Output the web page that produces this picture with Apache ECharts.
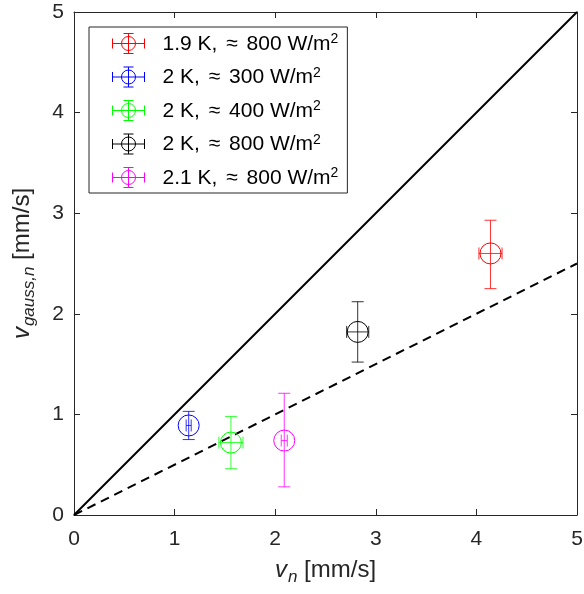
<!DOCTYPE html>
<html>
<head>
<meta charset="utf-8">
<script src="https://cdn.jsdelivr.net/npm/echarts@6/dist/echarts.min.js"></script>
<style>
  html, body { margin: 0; padding: 0; background: #fff; }
  #main { width: 584px; height: 594px; }
</style>
</head>
<body>
<div id="main"></div>
<script>
// measurement groups
var labels = ['1.9 K, ≈ 800 W/m', '2 K, ≈ 300 W/m', '2 K, ≈ 400 W/m', '2 K, ≈ 800 W/m', '2.1 K, ≈ 800 W/m'];
var colors = ['#ff0000', '#0000ff', '#00ff00', '#000000', '#ff00ff'];
var vn = [4.14, 1.14, 1.56, 2.82, 2.09];
var vnErr = [0.115, 0.025, 0.12, 0.11, 0.03];
var vGauss = [2.60, 0.89, 0.72, 1.82, 0.74];
var vGaussLow = [2.25, 0.75, 0.46, 1.52, 0.28];
var vGaussHigh = [2.93, 1.03, 0.98, 2.12, 1.21];

// reference lines
var lineX = [0, 5];
var lineSolidY = [0, 5];
var lineDashY = [0, 2.5];

var ticks = [0, 1, 2, 3, 4, 5];

var myChart = echarts.init(document.getElementById('main'));

var font = 'Liberation Sans, Arial, Helvetica, sans-serif';
var axisColor = '#262626';

var nameRich = {
    i: { fontStyle: 'italic', fontSize: 24, fontFamily: font, color: axisColor, lineHeight: 28, verticalAlign: 'top' },
    s: { fontStyle: 'italic', fontSize: 17, fontFamily: font, color: axisColor, lineHeight: 17, verticalAlign: 'bottom', padding: [20, 0, 0, 1] },
    t: { fontSize: 24, fontFamily: font, color: axisColor, lineHeight: 28, verticalAlign: 'top' }
};

function baseAxis(pos, showLabels) {
    return {
        type: 'value',
        position: pos,
        min: ticks[0],
        max: ticks[ticks.length - 1],
        interval: 1,
        axisLine: { show: true, onZero: false, lineStyle: { color: axisColor, width: 1 } },
        axisTick: { show: true, inside: true, length: 6, lineStyle: { color: axisColor } },
        axisLabel: { show: showLabels, fontSize: 21, fontFamily: font, color: axisColor },
        splitLine: { show: false },
        nameMoveOverlap: false
    };
}

var xBottom = baseAxis('bottom', true);
xBottom.axisLabel.margin = 14;
xBottom.name = '{i|v}{s|n}{t| [mm/s]}';
xBottom.nameLocation = 'middle';
xBottom.nameGap = 43;
xBottom.nameTextStyle = { rich: nameRich };

var yLeft = baseAxis('left', true);
yLeft.axisLabel.margin = 10;
yLeft.name = '{i|v}{s|gauss,n}{t| [mm/s]}';
yLeft.nameLocation = 'middle';
yLeft.nameGap = 36;
yLeft.nameTextStyle = { rich: nameRich };

var iconPath = 'path://M0,10L32,10M0,5L0,15M32,5L32,15M16,0L16,20M11,0L21,0M11,20L21,20' +
    'M23,10A7,7 0 1 1 9,10A7,7 0 1 1 23,10';

function renderErr(params, api) {
    var c = api.visual('color');
    var p = api.coord([api.value(0), api.value(1)]);
    var xl = api.coord([api.value(2), api.value(1)]);
    var xh = api.coord([api.value(3), api.value(1)]);
    var yl = api.coord([api.value(0), api.value(4)]);
    var yh = api.coord([api.value(0), api.value(5)]);
    var cap = 6;
    var ls = { stroke: c, lineWidth: 1, opacity: 0.8 };
    function seg(x1, y1, x2, y2) {
        return { type: 'line', shape: { x1: x1, y1: y1, x2: x2, y2: y2 }, style: ls };
    }
    return {
        type: 'group',
        children: [
            seg(p[0], yl[1], p[0], yh[1]),
            seg(p[0] - cap, yl[1], p[0] + cap, yl[1]),
            seg(p[0] - cap, yh[1], p[0] + cap, yh[1]),
            seg(xl[0], p[1], xh[0], p[1]),
            seg(xl[0], p[1] - cap, xl[0], p[1] + cap),
            seg(xh[0], p[1] - cap, xh[0], p[1] + cap),
            { type: 'circle', shape: { cx: p[0], cy: p[1], r: 10.5 }, style: { stroke: c, fill: 'none', lineWidth: 1 } }
        ]
    };
}

var series = [
    {
        type: 'line',
        data: lineX.map(function (x, i) { return [x, lineSolidY[i]]; }),
        showSymbol: false,
        silent: true,
        lineStyle: { color: '#000', width: 2 },
        z: 1
    },
    {
        type: 'line',
        data: lineX.map(function (x, i) { return [x, lineDashY[i]]; }),
        showSymbol: false,
        silent: true,
        lineStyle: { color: '#000', width: 2, type: [9, 6] },
        z: 1
    }
];

labels.forEach(function (name, i) {
    series.push({
        type: 'custom',
        name: name,
        color: colors[i],
        renderItem: renderErr,
        data: [[vn[i], vGauss[i], vn[i] - vnErr[i], vn[i] + vnErr[i], vGaussLow[i], vGaussHigh[i]]],
        encode: { x: [0, 2, 3], y: [1, 4, 5] },
        z: 3
    });
});

var legendRich = {
    a: { fontSize: 21, fontFamily: font, color: '#000', lineHeight: 22, verticalAlign: 'bottom' },
    p: { fontSize: 21, fontFamily: font, color: '#000', lineHeight: 22, verticalAlign: 'bottom', padding: [0, 0, 0, 13] },
    r: { fontSize: 21, fontFamily: font, color: '#000', lineHeight: 22, verticalAlign: 'bottom', padding: [0, 3, 0, 3] },
    b: { fontSize: 14, fontFamily: font, color: '#000', lineHeight: 14, verticalAlign: 'top' }
};

var option = {
    animation: false,
    backgroundColor: '#fff',
    grid: { left: 74, right: 7, top: 12, bottom: 79, containLabel: false, outerBoundsMode: 'none' },
    legend: {
        orient: 'vertical',
        left: 89,
        top: 27,
        padding: [4, 9, 3, 21],
        itemGap: 8.5,
        itemWidth: 32,
        itemHeight: 20,
        backgroundColor: '#fff',
        borderColor: axisColor,
        borderWidth: 1,
        borderRadius: 0,
        selectedMode: false,
        data: labels.map(function (name, i) {
            return {
                name: name,
                icon: iconPath,
                itemStyle: { color: 'none', borderColor: colors[i], borderWidth: 1 }
            };
        }),
        formatter: function (name) {
            var parts = name.split('≈');
            return '{p|}{a|' + parts[0] + '}{r|≈}{a|' + parts[1] + '}{b|2}';
        },
        textStyle: { rich: legendRich }
    },
    xAxis: [xBottom, baseAxis('top', false)],
    yAxis: [yLeft, baseAxis('right', false)],
    series: series
};

myChart.setOption(option);
</script>
</body>
</html>
